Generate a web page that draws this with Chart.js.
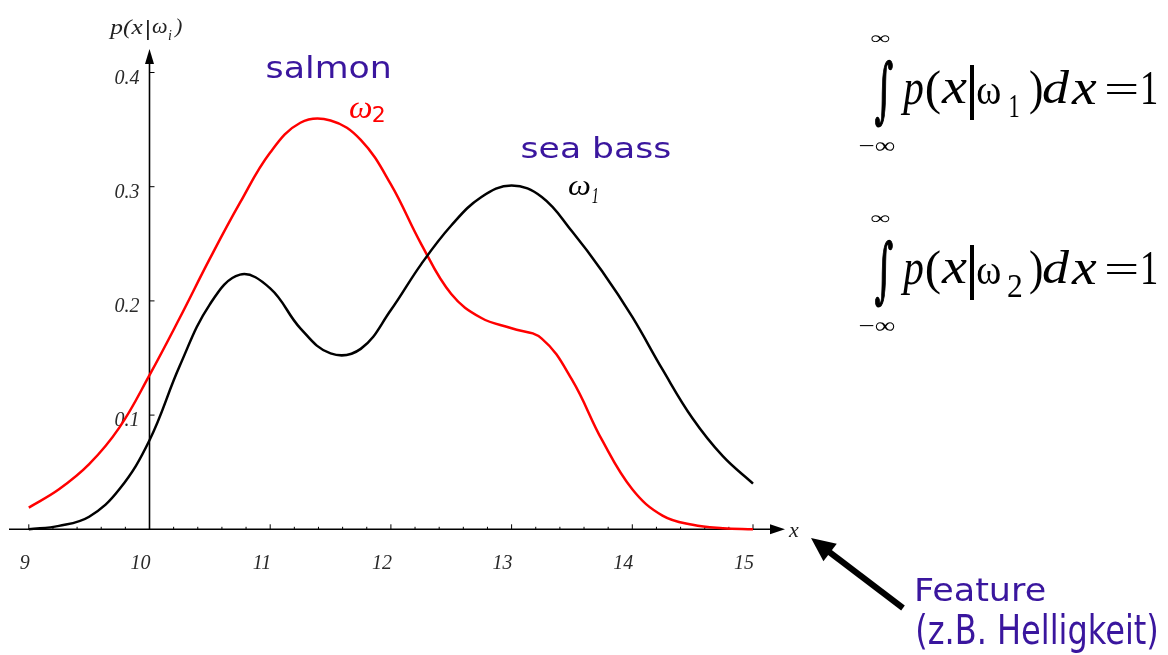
<!DOCTYPE html>
<html>
<head>
<meta charset="utf-8">
<script src="https://cdn.jsdelivr.net/npm/chart.js@4.4.0/dist/chart.umd.min.js"></script>
<style>
  html, body { margin: 0; background: #fff; }
  #wrap { width: 1168px; height: 655px; position: relative; }
</style>
</head>
<body>
<div id="wrap"><canvas id="chart"></canvas></div>
<script>
// feature value x (sampled every 0.25)
const xValues = [9.0, 9.25, 9.5, 9.75, 10.0, 10.25, 10.5, 10.75, 11.0, 11.25, 11.5, 11.75,
  12.0, 12.25, 12.5, 12.75, 13.0, 13.25, 13.5, 13.75, 14.0, 14.25, 14.5, 14.75, 15.0];

// p(x|w1) - sea bass (black)
const seaBass = [0.0, 0.003, 0.011, 0.035, 0.078, 0.143, 0.197, 0.223, 0.211, 0.176, 0.154, 0.158,
  0.192, 0.232, 0.266, 0.291, 0.301, 0.291, 0.261, 0.226, 0.186, 0.140, 0.097, 0.064, 0.040];

// p(x|w2) - salmon (red)
const salmon = [0.019, 0.035, 0.057, 0.089, 0.135, 0.185, 0.237, 0.286, 0.330, 0.356, 0.358, 0.341,
  0.302, 0.250, 0.206, 0.185, 0.176, 0.167, 0.131, 0.078, 0.035, 0.012, 0.004, 0.001, 0.0];

// axis ticks
const xTicks = [9, 10, 11, 12, 13, 14, 15];
const yTicks = [0.1, 0.2, 0.3, 0.4];

const BLUE = '#3a169e';
const SERIF = '"Liberation Serif", "DejaVu Serif", serif';
const SANS = '"DejaVu Sans", sans-serif';

// draw text so its ink fills the given box
function ink(ctx, str, font, color, l, t, r, b, stroke = 0) {
  ctx.save();
  ctx.font = font;
  ctx.fillStyle = color;
  ctx.strokeStyle = color;
  ctx.textAlign = 'left';
  ctx.textBaseline = 'alphabetic';
  const m = ctx.measureText(str);
  const w = m.actualBoundingBoxLeft + m.actualBoundingBoxRight;
  const h = m.actualBoundingBoxAscent + m.actualBoundingBoxDescent;
  ctx.translate(l, t);
  ctx.scale((r - l) / w, (b - t) / h);
  ctx.fillText(str, m.actualBoundingBoxLeft, m.actualBoundingBoxAscent);
  if (stroke) {
    ctx.lineWidth = stroke;
    ctx.strokeText(str, m.actualBoundingBoxLeft, m.actualBoundingBoxAscent);
  }
  ctx.restore();
}

function text(ctx, str, font, x, y, color = '#000') {
  ctx.font = font;
  ctx.fillStyle = color;
  ctx.fillText(str, x, y);
}

function arrowHead(ctx, tipX, tipY, angle, len, half) {
  ctx.save();
  ctx.translate(tipX, tipY);
  ctx.rotate(angle);
  ctx.beginPath();
  ctx.moveTo(0, 0);
  ctx.lineTo(-len, -half);
  ctx.lineTo(-len, half);
  ctx.closePath();
  ctx.fill();
  ctx.restore();
}

// integral equation, sub = '1' or '2', dy = vertical shift
function equation(ctx, sub, dy) {
  const f = '48px ' + SERIF, fi = 'italic 52px ' + SERIF;
  ink(ctx, '\u222B', '60px "DejaVu Serif", serif', '#000', 875, 240 + dy, 893, 307 + dy, 1.2);
  ink(ctx, '\u221E', '20px ' + SERIF, '#000', 870, 215 + dy, 890, 223 + dy);
  ink(ctx, '\u2212\u221E', '20px ' + SERIF, '#000', 860, 322 + dy, 895, 332 + dy);
  ink(ctx, 'p', fi, '#000', 900, 260 + dy, 923, 295 + dy);
  ink(ctx, '(', f, '#000', 926.7, 250 + dy, 940, 295 + dy);
  ink(ctx, 'x', fi, '#000', 941, 260 + dy, 967, 283 + dy);
  ctx.fillStyle = '#000';
  ctx.fillRect(970, 245 + dy, 4, 55);
  ink(ctx, '\u03C9', f, '#000', 977, 262 + dy, 1000, 283.5 + dy);
  if (sub === '1') ink(ctx, '1', '30px ' + SERIF, '#000', 1010, 275 + dy, 1019, 296.7 + dy);
  else ink(ctx, '2', '30px ' + SERIF, '#000', 1008, 275 + dy, 1021.7, 296.7 + dy);
  ink(ctx, ')', f, '#000', 1030, 250 + dy, 1041.7, 295 + dy);
  ink(ctx, 'd', fi, '#000', 1043, 250 + dy, 1070, 283.5 + dy);
  ink(ctx, 'x', fi, '#000', 1071, 260 + dy, 1096.7, 283.5 + dy);
  ink(ctx, '=', f, '#000', 1106.7, 265 + dy, 1136.7, 275 + dy);
  ink(ctx, '1', f, '#000', 1143, 251.7 + dy, 1156.7, 283.5 + dy);
}

const axesPlugin = {
  id: 'axesPlugin',
  beforeDatasetsDraw(chart) {
    const ctx = chart.ctx;
    const X = v => chart.scales.x.getPixelForValue(v);
    const Y = v => chart.scales.y.getPixelForValue(v);
    const y0 = Y(0), x0 = X(10);

    ctx.save();
    ctx.strokeStyle = '#000';
    ctx.fillStyle = '#000';
    ctx.lineWidth = 1.6;

    // x axis with arrow
    ctx.beginPath();
    ctx.moveTo(9, y0);
    ctx.lineTo(772, y0);
    ctx.stroke();
    arrowHead(ctx, 785, y0, 0, 15, 5);

    // y axis with arrow
    ctx.beginPath();
    ctx.moveTo(x0, y0);
    ctx.lineTo(x0, 62);
    ctx.stroke();
    arrowHead(ctx, x0, 49, -Math.PI / 2, 15, 4.5);

    // x ticks, minor every 0.2
    ctx.lineWidth = 1;
    for (let k = 0; k <= 30; k++) {
      const v = 9 + k * 0.2;
      const major = k % 5 === 0;
      ctx.beginPath();
      ctx.moveTo(X(v), y0);
      ctx.lineTo(X(v), y0 - (major ? 5 : 2.5));
      ctx.stroke();
    }
    yTicks.forEach(t => {
      ctx.beginPath();
      ctx.moveTo(x0, Y(t));
      ctx.lineTo(x0 + 5, Y(t));
      ctx.stroke();
    });

    // tick labels
    ctx.fillStyle = '#2a2a2a';
    ctx.font = 'italic 20px ' + SERIF;
    ctx.textAlign = 'right';
    ctx.textBaseline = 'alphabetic';
    xTicks.forEach(t => ctx.fillText(String(t), X(t) + 1, 569));
    yTicks.forEach(t => ctx.fillText(String(t), x0 - 10, Y(t) + 11));
    ctx.restore();
  },
  afterDraw(chart) {
    const ctx = chart.ctx;
    ctx.save();
    ctx.fillStyle = '#000';
    ctx.strokeStyle = '#000';
    ctx.textAlign = 'left';
    ctx.textBaseline = 'alphabetic';

    // axis names
    text(ctx, 'x', 'italic 22px ' + SERIF, 789, 537, '#222');
    ink(ctx, 'p(x', 'italic 22px ' + SERIF, '#222', 108, 19, 143, 39);
    ctx.fillStyle = '#222';
    ctx.fillRect(147, 20, 1.8, 20);
    text(ctx, '\u03C9', 'italic 22px ' + SERIF, 152, 33, '#222');
    text(ctx, 'i', 'italic 14px ' + SERIF, 168, 40, '#222');
    text(ctx, ')', 'italic 22px ' + SERIF, 175, 33, '#222');

    // class labels
    ink(ctx, 'salmon', '31px ' + SANS, BLUE, 266.7, 55, 390, 78);
    ink(ctx, 'sea bass', '31px ' + SANS, BLUE, 521.7, 136.7, 670, 158.3);
    ink(ctx, '\u03C9', 'italic 28px ' + SERIF, '#f00', 349, 102, 371.7, 118);
    ink(ctx, '2', '18px ' + SANS, '#f00', 373, 107, 384, 122);
    ink(ctx, '\u03C9', 'italic 28px ' + SERIF, '#000', 568, 180, 590, 195);
    ink(ctx, '1', 'italic 18px ' + SERIF, '#000', 591.7, 187, 598, 203);

    // normalisation equations
    equation(ctx, '1', -180);
    equation(ctx, '2', 0);

    // feature arrow
    ctx.fillStyle = '#000';
    ctx.lineWidth = 6;
    ctx.beginPath();
    ctx.moveTo(903, 608);
    ctx.lineTo(826, 549.5);
    ctx.stroke();
    arrowHead(ctx, 811, 538, Math.atan2(538 - 608, 811 - 903), 24, 11);

    ink(ctx, 'Feature', '31px ' + SANS, BLUE, 917.3, 578.3, 1045, 601);
    ink(ctx, '(z.B. Helligkeit)', '31px ' + SANS, BLUE, 917.3, 613.3, 1156.7, 652);
    ctx.restore();
  }
};

new Chart(document.getElementById('chart'), {
  type: 'line',
  data: {
    datasets: [
      {
        label: 'p(x|\u03C9\u2081) sea bass',
        data: xValues.map((x, i) => ({ x, y: seaBass[i] })),
        borderColor: '#000',
        borderWidth: 2.5,
        pointRadius: 0,
        tension: 0.4,
        clip: false
      },
      {
        label: 'p(x|\u03C9\u2082) salmon',
        data: xValues.map((x, i) => ({ x, y: salmon[i] })),
        borderColor: '#f00',
        borderWidth: 2.5,
        pointRadius: 0,
        tension: 0.4,
        clip: false
      }
    ]
  },
  options: {
    responsive: true,
    maintainAspectRatio: false,
    animation: false,
    layout: { padding: { left: 28.8, right: 415, top: 72.5, bottom: 125.7 } },
    scales: {
      x: { type: 'linear', min: 9, max: 15, display: false },
      y: { min: 0, max: 0.4, display: false }
    },
    plugins: {
      legend: { display: false },
      tooltip: { enabled: false }
    }
  },
  plugins: [axesPlugin]
});
</script>
</body>
</html>
